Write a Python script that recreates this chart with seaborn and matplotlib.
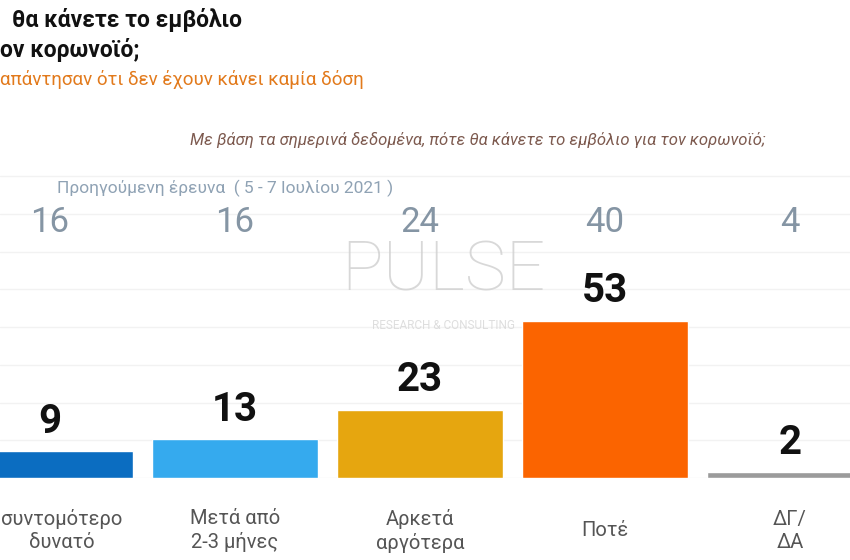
import matplotlib
matplotlib.use('Agg')
import matplotlib.pyplot as plt
import matplotlib.transforms as mtransforms
import numpy as np
import pandas as pd
import seaborn as sns

categories = ['συντομότερο\nδυνατό', 'Μετά από\n2-3 μήνες', 'Αρκετά\nαργότερα', 'Ποτέ', 'ΔΓ/\nΔΑ']
current = [9, 13, 23, 53, 2]
previous = [16, 16, 24, 40, 4]
colors = ['#0b6dc1', '#35aaee', '#e6a60f', '#fb6400', '#9b9b9b']

sns.set_theme(style='white')
plt.rcParams['font.family'] = ['Roboto', 'DejaVu Sans']

df = pd.DataFrame({'cat': categories, 'val': current})

fig = plt.figure(figsize=(8.5, 5.6), dpi=100)
ax = fig.add_axes([0, 82 / 560, 1, 478 / 560])
sns.barplot(data=df, x='cat', y='val', hue='cat', palette=colors, width=0.9,
            legend=False, saturation=1, ax=ax)
ax.set_xlim(-50 / 185, 800 / 185)
ax.set_ylim(0, 161)
ax.set_yticks(np.arange(0, 102, 12.7))
ax.yaxis.grid(True, color='#f2f2f2', linewidth=1)
ax.set_axisbelow(True)
ax.set_yticklabels([])
ax.tick_params(axis='y', length=0)
for s in ax.spines.values():
    s.set_visible(False)
ax.set_xlabel('')
ax.set_ylabel('')
ax.tick_params(axis='x', length=0, pad=38, labelsize=14.5, labelcolor='#555555')
for lbl in ax.get_xticklabels():
    lbl.set_va('center')
    lbl.set_linespacing(1.25)
# first label is cut by the crop in the original; nudge it in so it stays readable
first = ax.get_xticklabels()[0]
first.set_transform(first.get_transform() + mtransforms.ScaledTranslation(12 / 100, 0, fig.dpi_scale_trans))

# current values
for i, v in enumerate(current):
    ax.text(i, v + 6.2, str(v), ha='center', va='baseline', fontsize=29,
            fontweight='bold', color='#111111')

# previous survey values
for i, v in enumerate(previous):
    ax.text(i, 86, str(v), ha='center', va='center', fontsize=25,
            fontweight='normal', color='#8595a4')

# watermark
fig.text(0.522, 0.515, 'PULSE', ha='center', va='center', fontsize=50,
         fontweight='light', color='#cfcfcf', alpha=0.8)
fig.text(0.522, 0.418, 'RESEARCH & CONSULTING', ha='center', va='center', fontsize=8.5,
         color='#d6d6d6', alpha=0.8)

# texts
fig.text(57 / 850, 1 - 188 / 560, 'Προηγούμενη έρευνα  ( 5 - 7 Ιουλίου 2021 )',
         ha='left', va='center', fontsize=12.5, color='#8fa2b4')
fig.text(190 / 850, 1 - 140 / 560,
         'Με βάση τα σημερινά δεδομένα, πότε θα κάνετε το εμβόλιο για τον κορωνοϊό;',
         ha='left', va='center', fontsize=12, style='italic', color='#7d5a4f')
fig.text(12 / 850, 1 - 20 / 560, 'θα κάνετε το εμβόλιο', ha='left', va='center',
         fontsize=16.5, fontweight='bold', color='#111111')
fig.text(0 / 850, 1 - 50 / 560, 'ον κορωνοϊό;', ha='left', va='center',
         fontsize=16.5, fontweight='bold', color='#111111')
fig.text(0 / 850, 1 - 80 / 560, 'απάντησαν ότι δεν έχουν κάνει καμία δόση',
         ha='left', va='center', fontsize=13.5, color='#e27a1c')

fig.savefig('out.png', dpi=100)
